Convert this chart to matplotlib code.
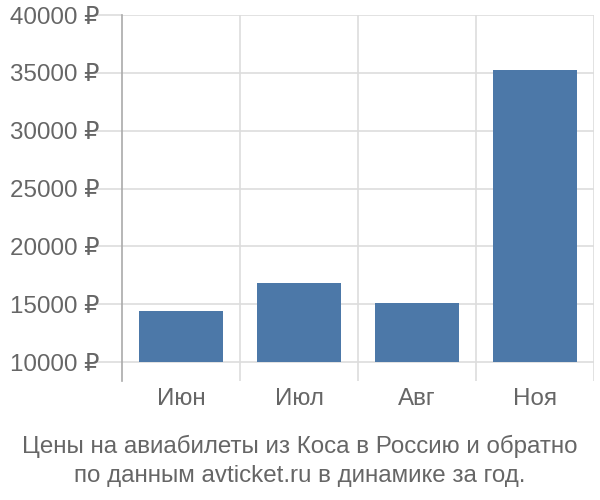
import matplotlib
matplotlib.use("Agg")
import matplotlib.pyplot as plt

plt.rcParams['font.family'] = ['Liberation Sans', 'DejaVu Sans']

categories = ["Июн", "Июл", "Авг", "Ноя"]
prices = [14400, 16850, 15100, 35250]
yticks = [10000, 15000, 20000, 25000, 30000, 35000, 40000]
ytick_labels = [f"{v} ₽" for v in yticks]
caption = "Цены на авиабилеты из Коса в Россию и обратно\nпо данным avticket.ru в динамике за год."

base = 10000
fig = plt.figure(figsize=(6, 5), dpi=100)
ax = fig.add_axes([122/600, 1-381/500, (594-122)/600, (381-15)/500])

x = range(len(categories))
ax.bar(x, [p - base for p in prices], bottom=base, width=0.72,
       color="#4c78a8", zorder=3)

ax.set_xlim(-0.5, len(categories) - 0.5)
ax.set_ylim(8360, 40000)

grid_c = "#dddddd"
for yv in yticks:
    ax.axhline(yv, color=grid_c, lw=1.2, zorder=1)
for xv in [0.5, 1.5, 2.5, 3.5]:
    ax.axvline(xv, color=grid_c, lw=1.2, zorder=1)

fs = 17.4
ax.set_yticks(yticks)
ax.set_yticklabels(ytick_labels)
ax.set_xticks(list(x))
ax.set_xticklabels(categories)
ax.tick_params(axis='y', length=20, color=grid_c, width=1.2, labelsize=fs,
               labelcolor="#666666", pad=-4)
ax.tick_params(axis='x', length=0, labelsize=fs, labelcolor="#666666", pad=5)

for s in ['top', 'right', 'bottom']:
    ax.spines[s].set_visible(False)
ax.spines['left'].set_color("#aaaaaa")
ax.spines['left'].set_linewidth(1.2)

fig.text(0.5, 1-461/500, caption, ha='center', va='center', fontsize=fs,
         color="#666666", linespacing=1.38)

fig.savefig("out.png", dpi=100)
